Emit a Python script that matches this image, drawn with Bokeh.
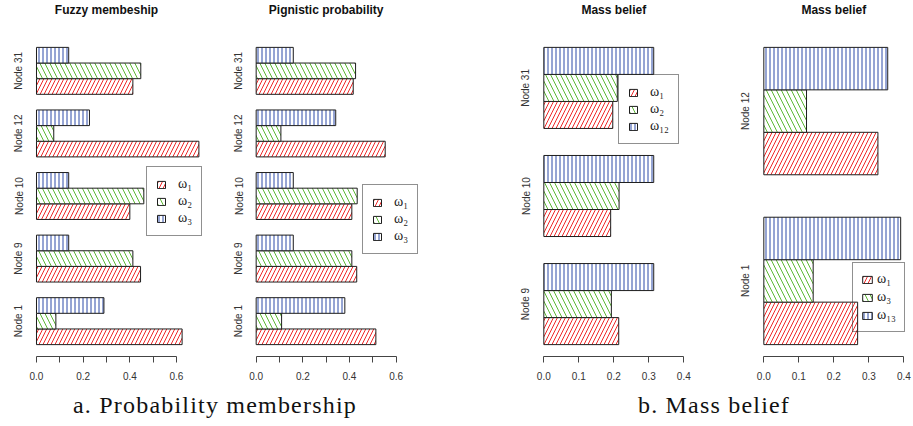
from bokeh.plotting import figure
from bokeh.models import (Range1d, FixedTicker, ColumnDataSource, Legend, LegendItem,
                          Div, PrintfTickFormatter, Label)
from bokeh.layouts import row, column
from bokeh.embed import file_html
from bokeh.resources import INLINE

# ---------------- data (groups listed bottom to top) ----------------
nodes_a = ["Node 1", "Node 9", "Node 10", "Node 12", "Node 31"]
fuzzy_w1 = [0.624, 0.446, 0.400, 0.696, 0.413]
fuzzy_w2 = [0.083, 0.413, 0.460, 0.074, 0.447]
fuzzy_w3 = [0.289, 0.138, 0.138, 0.227, 0.138]

pign_w1 = [0.513, 0.431, 0.410, 0.553, 0.416]
pign_w2 = [0.109, 0.410, 0.433, 0.106, 0.426]
pign_w3 = [0.380, 0.159, 0.159, 0.341, 0.159]

nodes_b = ["Node 9", "Node 10", "Node 31"]
mass1_w1 = [0.214, 0.191, 0.197]
mass1_w2 = [0.193, 0.215, 0.210]
mass1_w12 = [0.314, 0.314, 0.314]

nodes_c = ["Node 1", "Node 12"]
mass2_w1 = [0.268, 0.326]
mass2_w3 = [0.141, 0.122]
mass2_w13 = [0.391, 0.354]

titles = ["Fuzzy membeship", "Pignistic probability", "Mass belief", "Mass belief"]
legend_a = ["ω₁", "ω₂", "ω₃"]
legend_b = ["ω₁", "ω₂", "ω₁₂"]
legend_c = ["ω₁", "ω₃", "ω₁₃"]
ticks_a = [0.0, 0.2, 0.4, 0.6]
minor_a = [0.1, 0.3, 0.5]
ticks_b = [0.0, 0.1, 0.2, 0.3, 0.4]
captions = ["a. Probability membership", "b. Mass belief"]

# ---------------- styles ----------------
STY = [
    dict(hatch_pattern="/", hatch_color="#f02828", hatch_scale=8, hatch_weight=1),
    dict(hatch_pattern="\\", hatch_color="#5cb834", hatch_scale=10, hatch_weight=1),
    dict(hatch_pattern="|", hatch_color="#2c4aa8", hatch_scale=4, hatch_weight=1),
]
SANS = "Liberation Sans"
TOP = 35                 # space above the bar region (title area, inside the frame)
BAR_H = 321              # height of the bar region
BB = 30
H = TOP + BAR_H + BB


def panel(title, nodes, series, labels, xr, ticks, minor, width, bl, br,
          title_x, leg_loc, leg_pad, leg_gw, leg_gh, leg_so, leg_sp, ylab_so):
    n = len(nodes)
    tot = 4 * n
    ext = 0.04 * (tot - 1)
    upp = (tot - 1 + 2 * ext) / BAR_H
    p = figure(width=width, height=H, x_range=Range1d(*xr),
               y_range=Range1d(1 - ext, tot + ext + TOP * upp),
               output_backend="svg", toolbar_location=None,
               min_border_left=bl, min_border_right=br,
               min_border_top=0, min_border_bottom=BB)
    p.outline_line_color = None
    p.xgrid.visible = False
    p.ygrid.visible = False
    p.background_fill_color = "white"
    p.border_fill_color = "white"

    rends = []
    for j, vals in enumerate(series):
        ys = [1.5 + 4 * g + j for g in range(n)]
        src = ColumnDataSource(dict(y=ys, right=vals))
        r = p.hbar(y="y", right="right", left=0, height=1, source=src,
                   fill_color="white", line_color="#1e1e1e", line_width=1,
                   **STY[j])
        rends.append(r)

    # panel title (centered over the R-style plot region)
    p.add_layout(Label(x=title_x, y=BAR_H + TOP - 9, x_units="screen", y_units="screen",
                       text=title, text_font=SANS, text_font_style="bold",
                       text_font_size="12px", text_color="#111111",
                       text_align="center", text_baseline="alphabetic"))

    # x axis
    xa = p.xaxis[0]
    xa.ticker = FixedTicker(ticks=ticks, minor_ticks=minor)
    xa.formatter = PrintfTickFormatter(format="%.1f")
    xa.bounds = (ticks[0], ticks[-1])
    xa.major_tick_in = 0
    xa.major_tick_out = 6
    xa.minor_tick_in = 0
    xa.minor_tick_out = 6
    xa.axis_line_color = "#444444"
    xa.major_tick_line_color = "#444444"
    xa.minor_tick_line_color = "#444444"
    xa.major_label_text_font = SANS
    xa.major_label_text_font_size = "10px"
    xa.major_label_text_color = "#333333"
    xa.major_label_standoff = 9

    # y axis (group names)
    ya = p.yaxis[0]
    centers = [2.5 + 4 * g for g in range(n)]
    ya.ticker = FixedTicker(ticks=centers, minor_ticks=[])
    ya.major_label_overrides = {c: nm for c, nm in zip(centers, nodes)}
    ya.major_label_orientation = "vertical"
    ya.axis_line_color = None
    ya.major_tick_line_color = None
    ya.minor_tick_line_color = None
    ya.major_tick_in = 0
    ya.major_tick_out = 0
    ya.major_label_standoff = ylab_so
    ya.major_label_text_font = SANS
    ya.major_label_text_font_size = "10px"
    ya.major_label_text_color = "#333333"

    leg = Legend(items=[LegendItem(label=lab, renderers=[r]) for lab, r in zip(labels, rends)],
                 location=leg_loc, margin=0, padding=leg_pad, spacing=leg_sp,
                 glyph_width=leg_gw, glyph_height=leg_gh, label_standoff=leg_so,
                 label_height=14, label_width=10,
                 label_text_font="Liberation Serif", label_text_font_size="14px",
                 label_text_color="#222222",
                 border_line_color="#222222", border_line_width=1,
                 background_fill_alpha=0)
    p.add_layout(leg)
    return p


p1 = panel(titles[0], nodes_a, [fuzzy_w1, fuzzy_w2, fuzzy_w3], legend_a,
           (-0.0257, 0.7286), ticks_a, minor_a, 215, 30, 9, 76, (116, 120),
           9, 10, 9, 12, 1, 6)
p2 = panel(titles[1], nodes_a, [pign_w1, pign_w2, pign_w3], legend_a,
           (-0.0243, 0.7086), ticks_a, minor_a, 210, 35, 4, 75.7, (112, 102),
           9, 10, 9, 12, 1, 6)
p3 = panel(titles[2], nodes_b, [mass1_w1, mass1_w2, mass1_w12], legend_b,
           (-0.0152, 0.4448), ticks_b, [], 278, 113, 4, 75.3, (80, 212),
           9, 10, 9, 12, 1, 7)
p4 = panel(titles[3], nodes_c, [mass2_w1, mass2_w3, mass2_w13], legend_c,
           (-0.0152, 0.4162), ticks_b, [], 210, 55, 4, 75.3, (94, 24),
           8, 12, 9, 4, 2, 7)

cap_style = ("font-family:'Liberation Serif';font-size:24px;letter-spacing:1.2px;"
             "line-height:24px;text-align:center;white-space:nowrap;color:#111111;")
d1 = Div(text=f'<div style="width:430px;{cap_style}">{captions[0]}</div>',
         width=430, height=24, margin=(7, 0, 0, 0))
d2 = Div(text=f'<div style="width:398px;{cap_style}">{captions[1]}</div>',
         width=398, height=24, margin=(7, 0, 0, 85))

layout = column(row(p1, p2, p3, p4), row(d1, d2))

open("out.html", "w").write(file_html(layout, INLINE))
